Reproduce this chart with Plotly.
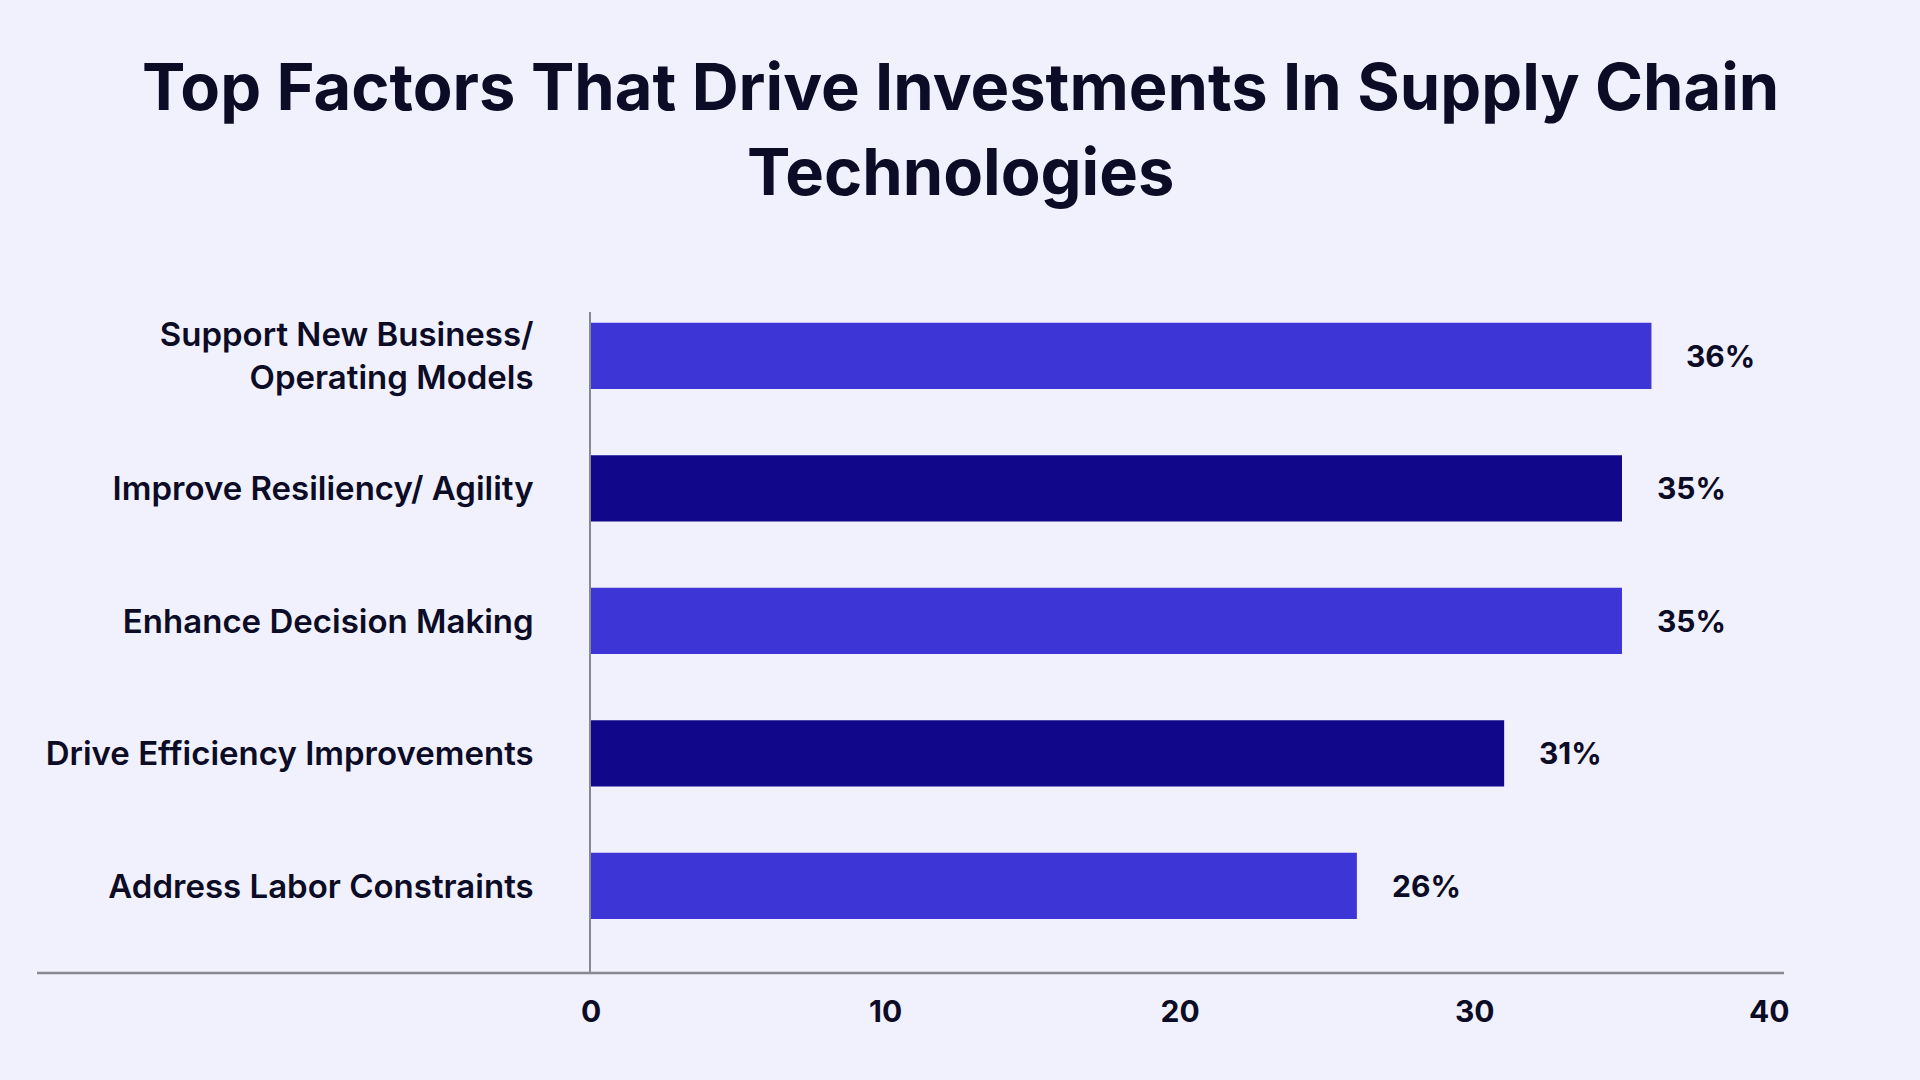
import plotly.graph_objects as go

categories = ["Support New Business/<br>Operating Models", "Improve Resiliency/ Agility",
              "Enhance Decision Making", "Drive Efficiency Improvements", "Address Labor Constraints"]
values = [36, 35, 35, 31, 26]
labels = ["36%", "35%", "35%", "31%", "26%"]
bar_colors = ["#3D35D6", "#10078A", "#3D35D6", "#10078A", "#3D35D6"]
x_ticks = [0, 10, 20, 30, 40]
title_text = "Top Factors That Drive Investments In Supply Chain<br>Technologies"

BG = "#F1F1FD"
TXT = "#0C0C26"
FONT = "Inter"

fig = go.Figure()
fig.add_trace(go.Bar(
    x=values, y=categories, orientation="h",
    marker=dict(color=bar_colors, line=dict(width=0)),
    width=0.5, hoverinfo="skip",
))

for v, c, t in zip(values, categories, labels):
    fig.add_annotation(x=v, y=c, text=t, showarrow=False, xanchor="left",
                       xshift=33, font=dict(family=FONT, size=30, color=TXT, weight=700))

L, R, T, B = 591, 1784, 312, 973
W, H = 1920, 1080
fig.add_shape(type="line", xref="paper", yref="paper",
              x0=(37 - L) / (R - L), x1=1, y0=0, y1=0,
              line=dict(color="#888890", width=2.5))

# title as annotation (centered on page)
fig.add_annotation(text=title_text, xref="paper", yref="paper",
                   x=(W / 2 - L) / (R - L), y=1 + (T - 45) / (B - T),
                   xanchor="center", yanchor="top", showarrow=False, align="center",
                   font=dict(family=FONT, size=65, color=TXT, weight=700))

fig.update_layout(
    width=W, height=H,
    margin=dict(l=L, r=W - R, t=T, b=H - B, pad=0),
    paper_bgcolor=BG, plot_bgcolor=BG,
    showlegend=False,
    xaxis=dict(range=[0, 40.5], tickvals=x_ticks, showgrid=False, zeroline=False,
               showline=False, ticks="", ticklabelstandoff=18,
               tickfont=dict(family=FONT, size=30, color=TXT, weight=700)),
    yaxis=dict(type="category", range=[4.657, -0.332], showgrid=False, zeroline=False,
               showline=True, linecolor="#888890", linewidth=1.5, ticks="",
               ticklabelstandoff=49,
               tickfont=dict(family=FONT, size=33, color=TXT, weight=600)),
)

fig.write_html("out.html")
